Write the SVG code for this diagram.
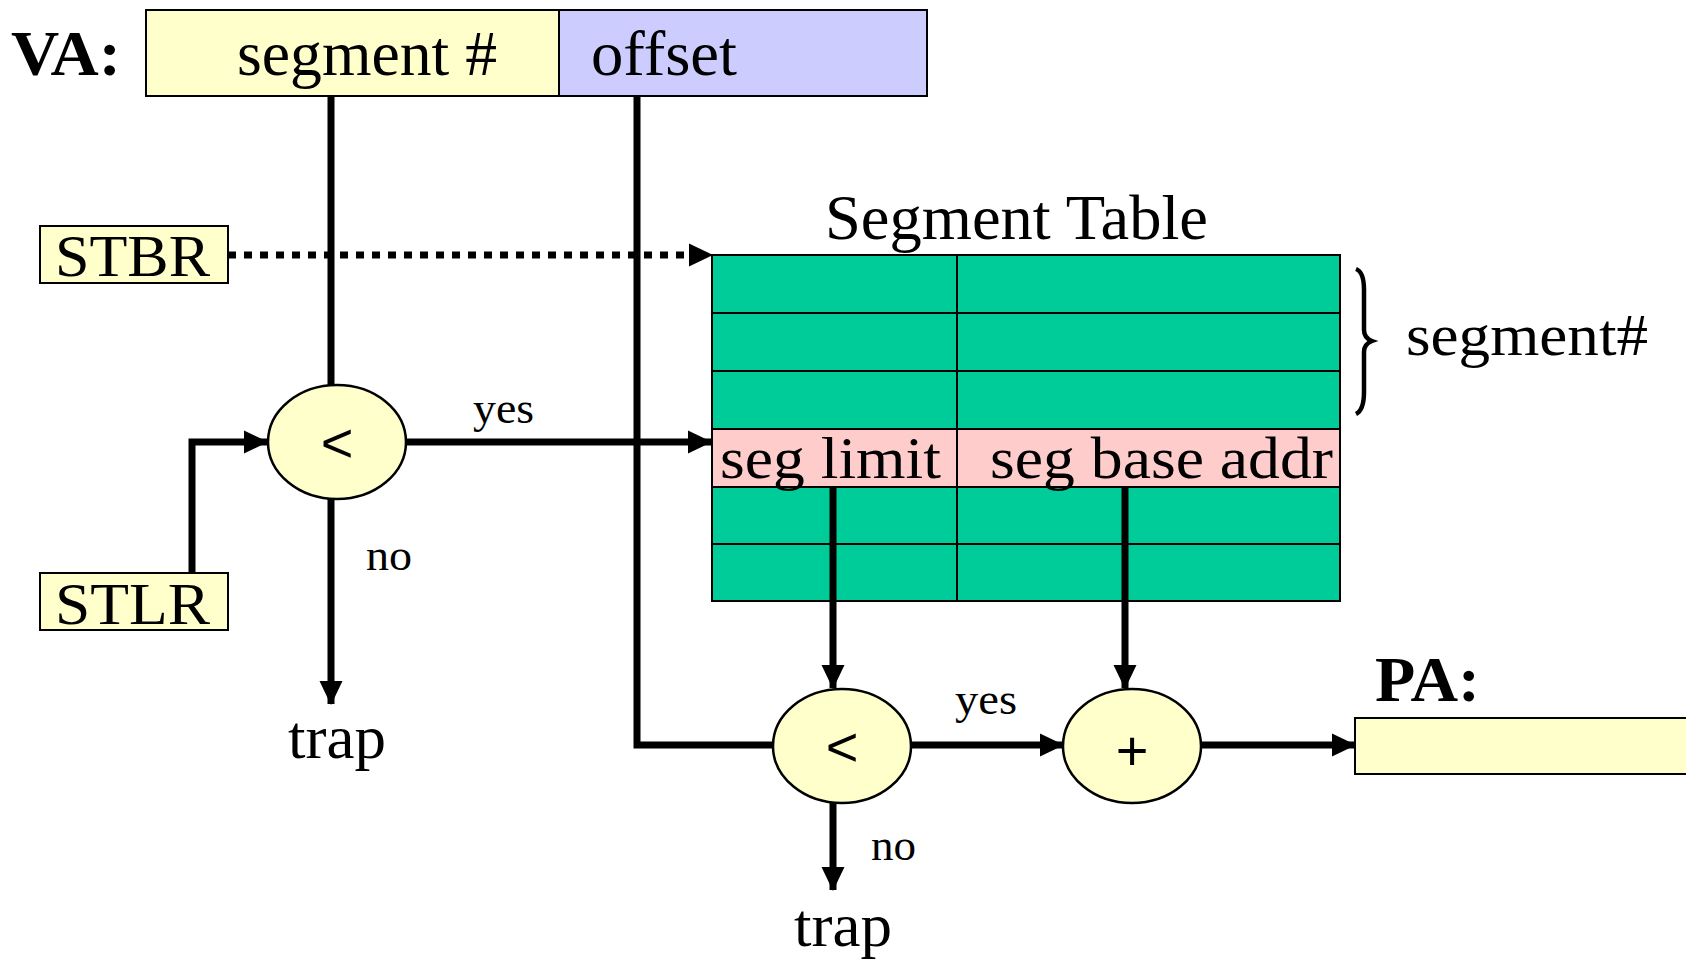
<svg xmlns="http://www.w3.org/2000/svg" width="1686" height="961" viewBox="0 0 1686 961">
  <style>
    .t { font-family: "Liberation Serif", "Times New Roman", serif; fill: #000; }
    .b { font-weight: bold; }
    .op { font-family: "Liberation Sans", Arial, sans-serif; fill: #000; text-anchor: middle; }
    .box { stroke: #000; stroke-width: 2; }
    .yel { fill: #FFFFCC; }
    .blu { fill: #CCCCFF; }
    .grn { fill: #00CC99; }
    .pnk { fill: #FFCCCC; }
    .cell { stroke: #000; stroke-width: 2; fill: none; }
    .wire { stroke: #000; stroke-width: 7; fill: none; }
    .dots { stroke: #000; stroke-width: 7; fill: none; stroke-dasharray: 8 8; }
    .node { fill: #FFFFCC; stroke: #000; stroke-width: 2.5; }
  </style>
  <defs>
    <marker id="arr" markerUnits="userSpaceOnUse" markerWidth="24" markerHeight="24" viewBox="0 0 24 24" refX="23" refY="12" orient="auto">
      <path d="M0,0.5 L24,12 L0,23.5 Z" fill="#000"/>
    </marker>
  </defs>

  <rect width="1686" height="961" fill="#fff"/>

  <!-- virtual address -->
  <g id="va">
    <text class="t b" x="11" y="75" font-size="64" textLength="110" lengthAdjust="spacingAndGlyphs">VA:</text>
    <rect class="box yel" x="146" y="10" width="413" height="86"/>
    <rect class="box blu" x="559" y="10" width="368" height="86"/>
    <text class="t" x="237" y="75" font-size="64" textLength="260" lengthAdjust="spacingAndGlyphs">segment #</text>
    <text class="t" x="591" y="75" font-size="64" textLength="146" lengthAdjust="spacingAndGlyphs">offset</text>
  </g>

  <!-- registers -->
  <g id="stbr">
    <rect class="box yel" x="40" y="226" width="188" height="57"/>
    <text class="t" x="55" y="276" font-size="60" textLength="155" lengthAdjust="spacingAndGlyphs">STBR</text>
  </g>
  <g id="stlr">
    <rect class="box yel" x="40" y="573" width="188" height="57"/>
    <text class="t" x="55" y="624" font-size="60" textLength="155" lengthAdjust="spacingAndGlyphs">STLR</text>
  </g>

  <!-- segment table -->
  <g id="segment-table">
    <text class="t" x="825" y="239" font-size="64" textLength="383" lengthAdjust="spacingAndGlyphs">Segment Table</text>
    <rect class="grn" x="712" y="255" width="628" height="346"/>
    <rect class="pnk" x="712" y="429" width="628" height="58"/>
    <rect class="cell" x="712" y="255" width="628" height="346"/>
    <path class="cell" d="M712,313 H1340 M712,371 H1340 M712,429 H1340 M712,487 H1340 M712,544 H1340 M957,255 V601"/>
    <text class="t" x="720" y="478" font-size="60" textLength="221" lengthAdjust="spacingAndGlyphs">seg limit</text>
    <text class="t" x="990" y="478" font-size="60" textLength="343" lengthAdjust="spacingAndGlyphs">seg base addr</text>
  </g>

  <g id="segment-brace">
    <path d="M1356,269 Q1364,272 1364,290 L1364,330 Q1364,338 1372,341 Q1364,344 1364,352 L1364,392 Q1364,410 1356,414" fill="none" stroke="#000" stroke-width="4.5"/>
    <text class="t" x="1406" y="355" font-size="60" textLength="242" lengthAdjust="spacingAndGlyphs">segment#</text>
  </g>

  <!-- connectors -->
  <g id="connectors">
    <path class="wire" d="M331,96 V385"/>
    <path class="wire" d="M637,96 V745 H774"/>
    <path class="dots" d="M228,255 H689"/>
    <path d="M689,243.5 L713,255 L689,266.5 Z" fill="#000"/>
    <path class="wire" d="M192,573 V442 H267" marker-end="url(#arr)"/>
    <path class="wire" d="M406,442 H711" marker-end="url(#arr)"/>
    <path class="wire" d="M331,499 V704" marker-end="url(#arr)"/>
    <path class="wire" d="M833,487 V688" marker-end="url(#arr)"/>
    <path class="wire" d="M1125,487 V688" marker-end="url(#arr)"/>
    <path class="wire" d="M911,745 H1063" marker-end="url(#arr)"/>
    <path class="wire" d="M1201,745 H1355" marker-end="url(#arr)"/>
    <path class="wire" d="M833,803 V890" marker-end="url(#arr)"/>
    <text class="t" x="473" y="423" font-size="44" textLength="61" lengthAdjust="spacingAndGlyphs">yes</text>
    <text class="t" x="366" y="570" font-size="44" textLength="46" lengthAdjust="spacingAndGlyphs">no</text>
    <text class="t" x="955" y="714" font-size="44" textLength="62" lengthAdjust="spacingAndGlyphs">yes</text>
    <text class="t" x="871" y="860" font-size="44" textLength="45" lengthAdjust="spacingAndGlyphs">no</text>
  </g>

  <!-- comparators and adder -->
  <g id="cmp-limit">
    <ellipse class="node" cx="337" cy="442" rx="69" ry="57"/>
    <text class="op" x="337" y="462" font-size="56">&lt;</text>
  </g>
  <g id="trap-1">
    <text class="t" x="337" y="758" font-size="62" text-anchor="middle" textLength="98" lengthAdjust="spacingAndGlyphs">trap</text>
  </g>
  <g id="cmp-offset">
    <ellipse class="node" cx="842" cy="746" rx="69" ry="57"/>
    <text class="op" x="842" y="766" font-size="56">&lt;</text>
  </g>
  <g id="trap-2">
    <text class="t" x="843" y="946" font-size="62" text-anchor="middle" textLength="98" lengthAdjust="spacingAndGlyphs">trap</text>
  </g>
  <g id="adder">
    <ellipse class="node" cx="1132" cy="746" rx="69" ry="57"/>
    <text class="op" x="1132" y="770" font-size="56">+</text>
  </g>

  <!-- physical address -->
  <g id="pa">
    <text class="t b" x="1375" y="701" font-size="64" textLength="105" lengthAdjust="spacingAndGlyphs">PA:</text>
    <rect class="box yel" x="1355" y="718" width="345" height="56"/>
  </g>
</svg>
